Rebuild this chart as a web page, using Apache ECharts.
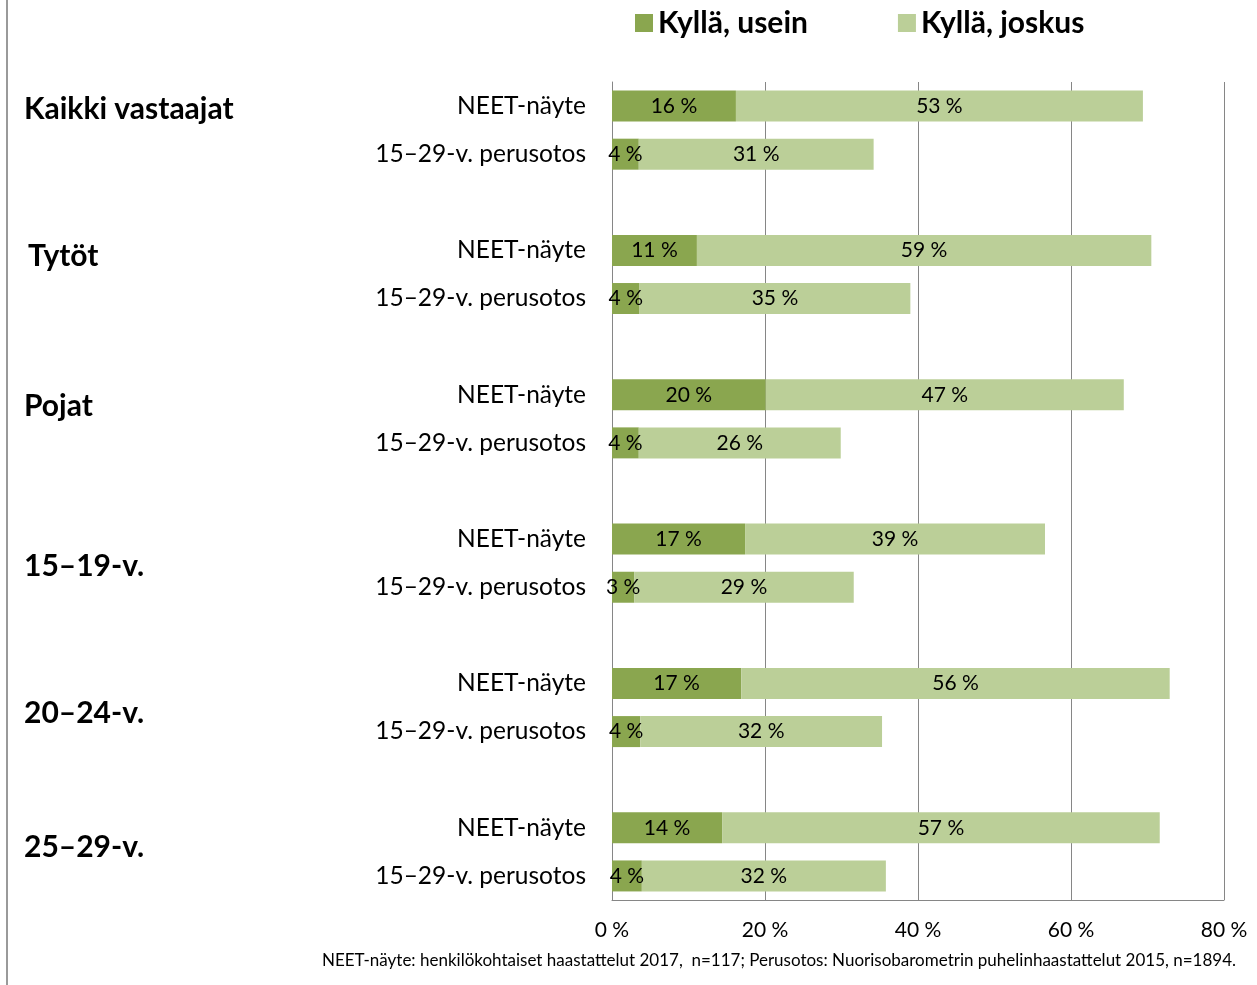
<!DOCTYPE html>
<html><head><meta charset="utf-8">
<script src="https://cdn.jsdelivr.net/npm/echarts@6/dist/echarts.min.js"></script>
<style>html,body{margin:0;padding:0;background:#fff}#c{width:1257px;height:985px}</style>
</head><body><div id="c"></div>
<script>
const groups = ['Kaikki vastaajat','Tytöt','Pojat','15–19-v.','20–24-v.','25–29-v.'];
const subCategories = ['NEET-näyte','15–29-v. perusotos'];
const seriesNames = ['Kyllä, usein','Kyllä, joskus'];
const usein  = [16.2,3.5, 11.1,3.6, 20.1,3.5, 17.4,2.9, 16.9,3.7, 14.4,3.9];
const joskus = [53.2,30.7, 59.4,35.4, 46.8,26.4, 39.2,28.7, 56.0,31.6, 57.2,31.9];
const xTicks = [0,20,40,60,80];
const footnote = 'NEET-näyte: henkilökohtaiset haastattelut 2017,  n=117; Perusotos: Nuorisobarometrin puhelinhaastattelut 2015, n=1894.';

const FONT = 'Lato';
const cats = [], d1 = [], d2 = [];
groups.forEach((g, gi) => {
  if (gi > 0) { cats.push(' '.repeat(gi)); d1.push('-'); d2.push('-'); }
  subCategories.forEach((s, si) => {
    cats.push(s + '\u200b'.repeat(gi));
    d1.push(usein[gi*2+si]);
    d2.push(joskus[gi*2+si]);
  });
});

const groupLabelY = [108,255,405,565,712,846];
const graphics = groups.map((g, i) => ({
  type:'text', left: (i===1?28:24), top: groupLabelY[i]-14,
  style:{text:g, font:'bold 30px '+FONT, fill:'#000'}
}));
graphics.push({type:'text', right:21, top:952, style:{text:footnote, font:'17px '+FONT, fill:'#000'}});
graphics.push({type:'line', shape:{x1:7,y1:0,x2:7,y2:985}, style:{stroke:'#9a9a9a', lineWidth:2}});

const lbl = {show:true, position:'inside', color:'#000', fontSize:21, fontFamily:FONT,
  formatter: p => Math.round(p.value) + ' %'};

const chart = echarts.init(document.getElementById('c'));
chart.setOption({
  animation:false,
  textStyle:{fontFamily:FONT},
  legend:{
    left:630, top:3, itemWidth:18, itemHeight:18, itemGap:90,
    icon:'rect',
    textStyle:{fontSize:30, fontWeight:'bold', color:'#000', fontFamily:FONT},
    data: seriesNames
  },
  grid:{left:612, right:33, top:82, bottom:85, containLabel:false},
  xAxis:{
    type:'value', min:0, max:80, interval:20,
    axisLine:{show:true, lineStyle:{color:'#868686', width:1}},
    axisTick:{show:false},
    splitLine:{show:true, lineStyle:{color:'#868686', width:1}},
    axisLabel:{formatter: v => v + ' %', fontSize:21, color:'#000', margin:20, fontFamily:FONT,
      customValues: xTicks}
  },
  yAxis:{
    type:'category', inverse:true, data:cats,
    axisLine:{show:true, lineStyle:{color:'#868686', width:1}},
    axisTick:{show:false},
    axisLabel:{fontSize:24.5, color:'#000', margin:26, fontFamily:FONT,
      formatter: v => v.replace(/\u200b/g,'').trim()}
  },
  series:[
    {name:seriesNames[0], type:'bar', stack:'a', data:d1, barWidth:31,
     itemStyle:{color:'#8aa64f'}, label:lbl},
    {name:seriesNames[1], type:'bar', stack:'a', data:d2, barWidth:31,
     itemStyle:{color:'#bbcf98'}, label:lbl}
  ],
  graphic: graphics
});
</script></body></html>
